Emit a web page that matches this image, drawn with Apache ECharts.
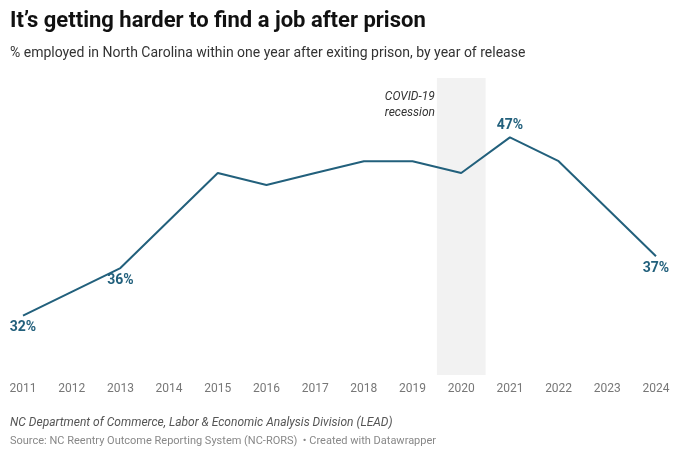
<!DOCTYPE html>
<html>
<head>
<meta charset="utf-8">
<script src="https://cdn.jsdelivr.net/npm/echarts@6/dist/echarts.min.js"></script>
<style>
    html, body { margin: 0; padding: 0; background: #fff; }
    #chart { width: 680px; height: 457px; }
</style>
</head>
<body>
<div id="chart"></div>
<script>
// years of release and % employed within one year
var years = [2011, 2012, 2013, 2014, 2015, 2016, 2017, 2018, 2019, 2020, 2021, 2022, 2023, 2024];
var employed = [32, 34, 36, 40, 44, 43, 44, 45, 45, 44, 47, 45, 41, 37];
// points that carry a value label, and where the label sits
var labelYears = [2011, 2013, 2021, 2024];
var labelSides = ['bottom', 'bottom', 'top', 'bottom'];
// shaded COVID-19 recession band
var recession = [2019.5, 2020.5];

var lineColor = '#22607c';

var seriesData = _buildData();

function _buildData() {
    var out = [];
    for (var i = 0; i < years.length; i++) {
        var item = { value: [years[i], employed[i]] };
        var k = labelYears.indexOf(years[i]);
        if (k > -1) {
            item.label = { show: true, position: labelSides[k] };
        }
        out.push(item);
    }
    return out;
}

var chart = echarts.init(document.getElementById('chart'), null, { renderer: 'canvas' });

var chartOption = {
    animation: false,
    backgroundColor: '#fff',
    textStyle: { fontFamily: 'Roboto' },
    title: [
        {
            text: 'It\u2019s getting harder to find a job after prison',
            left: 10, top: 10, padding: 0,
            textStyle: { fontFamily: 'Roboto', fontSize: 22, fontWeight: 'bold', color: '#111' }
        },
        {
            text: '% employed in North Carolina within one year after exiting prison, by year of release',
            left: 10, top: 46, padding: 0,
            textStyle: { fontFamily: 'Roboto', fontSize: 14, fontWeight: 'normal', color: '#333' }
        },
        {
            text: 'NC Department of Commerce, Labor & Economic Analysis Division (LEAD)',
            left: 10, top: 417, padding: 0,
            textStyle: { fontFamily: 'Roboto', fontSize: 12, fontStyle: 'italic', fontWeight: 'normal', color: '#555' }
        },
        {
            text: 'Source: NC Reentry Outcome Reporting System (NC-RORS)  \u2022 Created with Datawrapper',
            left: 10, top: 436, padding: 0,
            textStyle: { fontFamily: 'Roboto', fontSize: 11, fontWeight: 'normal', color: '#888' }
        }
    ],
    graphic: [
        {
            type: 'text',
            right: 680 - 435,
            top: 89,
            z: 100,
            style: {
                text: 'COVID-19\nrecession',
                align: 'right',
                fontFamily: 'Roboto',
                fontSize: 12,
                fontStyle: 'italic',
                lineHeight: 16,
                fill: '#333'
            }
        }
    ],
    grid: { left: 23, right: 24, top: 78, bottom: 82 },
    xAxis: {
        type: 'value',
        min: 2011,
        max: 2024,
        interval: 1,
        axisLine: { show: false },
        axisTick: { show: false },
        splitLine: { show: false },
        axisLabel: {
            margin: 8,
            fontSize: 12,
            color: '#777',
            formatter: function(value) { return String(value); }
        }
    },
    yAxis: {
        type: 'value',
        min: 27,
        max: 52,
        show: false
    },
    series: [
        {
            type: 'line',
            data: seriesData,
            symbol: 'circle',
            symbolSize: 0,
            showSymbol: true,
            lineStyle: { color: lineColor, width: 2 },
            itemStyle: { color: lineColor },
            label: {
                show: false,
                distance: 5,
                fontFamily: 'Roboto',
                fontSize: 14,
                fontWeight: 'bold',
                color: lineColor,
                formatter: function(p) { return p.value[1] + '%'; }
            },
            markArea: {
                silent: true,
                itemStyle: { color: '#f2f2f2' },
                data: [[{ xAxis: recession[0], yAxis: 27 }, { xAxis: recession[1], yAxis: 52 }]]
            },
            z: 3
        }
    ]
};

chart.setOption(chartOption);
</script>
</body>
</html>
